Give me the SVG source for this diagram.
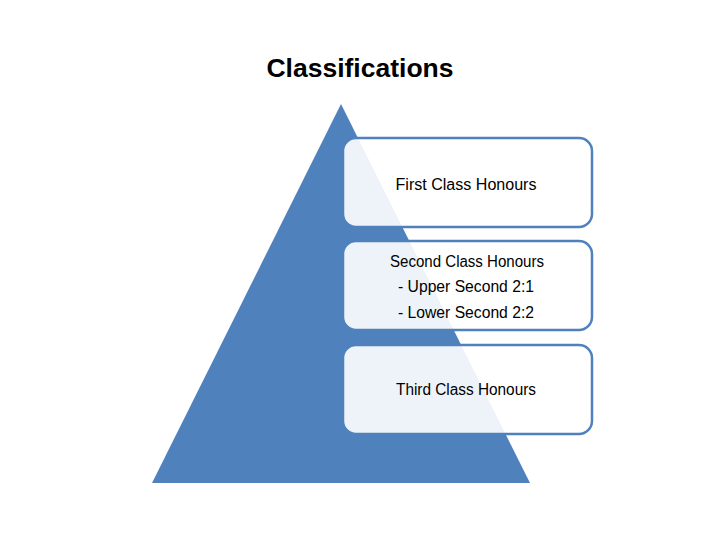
<svg xmlns="http://www.w3.org/2000/svg" width="720" height="540" viewBox="0 0 720 540">
<style>
.box{fill:#ffffff;fill-opacity:0.9;stroke:#4f81bd;stroke-width:2.5}
.t{font-family:"Liberation Sans",Arial,sans-serif;font-size:16px;fill:#000;text-anchor:middle}
.title{font-family:"Liberation Sans",Arial,sans-serif;font-size:26.5px;font-weight:bold;fill:#000;text-anchor:middle}
</style>
<rect width="720" height="540" fill="#ffffff"/>
<text class="title" x="360" y="77">Classifications</text>
<g id="pyramid">
<polygon points="341,104 152,483 530,483" fill="#4f81bd"/>
</g>
<g id="connectors"/>
<g id="first">
<rect class="box" x="343" y="138" width="249" height="89" rx="13"/>
<text class="t" x="466" y="190" textLength="141" lengthAdjust="spacingAndGlyphs">First Class Honours</text>
</g>
<g id="second">
<rect class="box" x="343" y="241" width="249" height="89" rx="13"/>
<text class="t" x="467" y="267" textLength="154" lengthAdjust="spacingAndGlyphs">Second Class Honours</text>
<text class="t" x="466" y="292" textLength="136" lengthAdjust="spacingAndGlyphs">- Upper Second 2:1</text>
<text class="t" x="466" y="318" textLength="136" lengthAdjust="spacingAndGlyphs">- Lower Second 2:2</text>
</g>
<g id="third">
<rect class="box" x="343" y="345" width="249" height="89" rx="13"/>
<text class="t" x="466" y="395" textLength="140" lengthAdjust="spacingAndGlyphs">Third Class Honours</text>
</g>
</svg>
